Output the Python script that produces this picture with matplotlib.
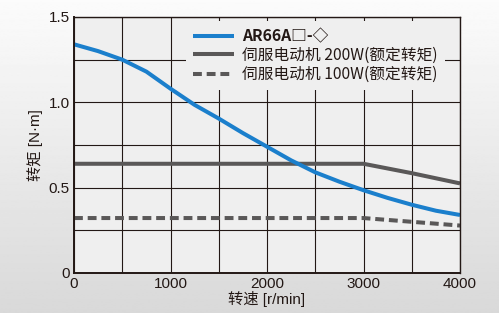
import numpy as np
import matplotlib.pyplot as plt
from matplotlib.ticker import MultipleLocator

plt.rcParams['font.family'] = ['Noto Sans CJK SC', 'DejaVu Sans']

# data
speed = [0, 250, 500, 750, 1000, 1250, 1500, 1750, 2000, 2250, 2500,
         2750, 3000, 3250, 3500, 3750, 4000]
torque_ar66a = [1.34, 1.30, 1.25, 1.18, 1.08, 0.985, 0.905, 0.82, 0.74,
                0.66, 0.59, 0.535, 0.485, 0.44, 0.40, 0.365, 0.34]
speed_servo = [0, 3000, 3500, 4000]
torque_200w = [0.64, 0.64, 0.585, 0.525]
torque_100w = [0.322, 0.322, 0.30, 0.278]

labels = ['AR66A□-◇', '伺服电动机 200W(额定转矩)', '伺服电动机 100W(额定转矩)']
xticks = [0, 1000, 2000, 3000, 4000]
yticks = [0, 0.5, 1.0, 1.5]
yticklabels = ['0', '0.5', '1.0', '1.5']

blue = '#1b7fcc'
gray = '#5a5858'
dark = '#231815'
num_font = ['Liberation Sans Narrow', 'Liberation Sans', 'DejaVu Sans']
label_font = ['Liberation Sans Narrow', 'Liberation Sans', 'Noto Sans CJK SC',
              'DejaVu Sans']

fig = plt.figure(figsize=(4.99, 3.13), dpi=100)

# gradient background
bg = fig.add_axes([0, 0, 1, 1], zorder=-10)
grad = np.linspace(0.985, 0.85, 256).reshape(-1, 1)
bg.imshow(grad, aspect='auto', cmap='gray', vmin=0, vmax=1,
          extent=[0, 1, 0, 1])
bg.axis('off')

ax = fig.add_axes([74 / 499, 40 / 313, 386 / 499, 256 / 313])
ax.set_facecolor('#efefef')

ax.plot(speed, torque_ar66a, color=blue, lw=2.9, label=labels[0],
        solid_capstyle='butt', zorder=4)
ax.plot(speed_servo, torque_200w, color=gray, lw=2.9, label=labels[1],
        solid_capstyle='butt', zorder=3)
ax.plot(speed_servo, torque_100w, color=gray, lw=2.9, label=labels[2],
        linestyle=(0, (2.2, 1.2)), zorder=3)

ax.set_xlim(0, 4000)
ax.set_ylim(0, 1.5)
ax.set_xticks(xticks)
ax.set_yticks(yticks)
ax.set_yticklabels(yticklabels)
ax.xaxis.set_minor_locator(MultipleLocator(500))
ax.yaxis.set_minor_locator(MultipleLocator(0.25))
ax.grid(True, which='both', color=dark, lw=0.8, zorder=1)
ax.set_axisbelow(True)
ax.tick_params(which='both', length=0, pad=3, labelsize=11,
               labelcolor=dark)
for lab in ax.get_xticklabels() + ax.get_yticklabels():
    lab.set_family(num_font)

for side in ['left', 'bottom']:
    ax.spines[side].set_linewidth(1.4)
for side in ['top', 'right']:
    ax.spines[side].set_linewidth(1.0)
for sp in ax.spines.values():
    sp.set_color(dark)
    sp.set_zorder(5)

ax.set_xlabel('转速 [r/min]', fontsize=11, color=dark, labelpad=0,
              family=label_font)
ax.set_ylabel('转矩 [N·m]', fontsize=11, color=dark, labelpad=4,
              family=label_font)

leg = ax.legend(loc='upper right', bbox_to_anchor=(0.961, 0.983),
                borderaxespad=0, frameon=True, fancybox=False,
                facecolor='#efefef', edgecolor='none', framealpha=1,
                fontsize=11.3, handlelength=2.6, handletextpad=0.55,
                labelspacing=0.15, borderpad=0.45)
leg.set_zorder(6)
texts = leg.get_texts()
texts[0].set_fontweight('bold')
for t in texts:
    t.set_color(dark)

fig.savefig('out.png', dpi=100)
